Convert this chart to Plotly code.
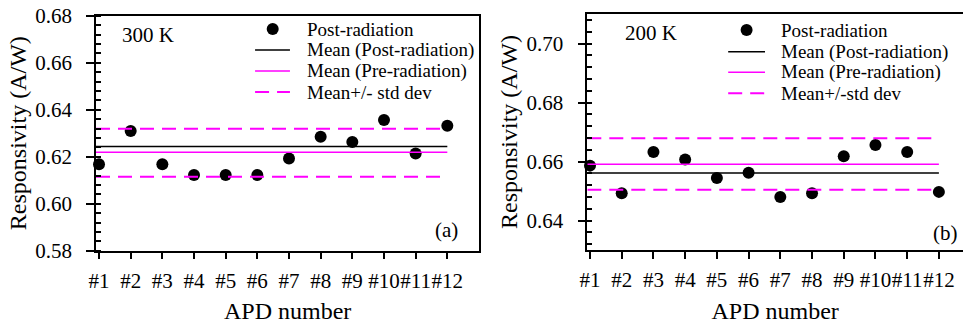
import plotly.graph_objects as go

# ---------------- data ----------------
apd_labels = ["#1", "#2", "#3", "#4", "#5", "#6", "#7", "#8", "#9", "#10", "#11", "#12"]
apd_index = list(range(1, 13))

post_300 = [0.6168, 0.6309, 0.6168, 0.6122, 0.6122, 0.6122, 0.6192, 0.6285, 0.6263, 0.6356, 0.6214, 0.6332]
post_200 = [0.6586, 0.6492, 0.6632, 0.6607, 0.6544, 0.6562, 0.6480, 0.6492, 0.6618, 0.6656, 0.6632, 0.6497]

mean_post_300 = 0.6243
mean_pre_300 = 0.6219
std_hi_300 = 0.6319
std_lo_300 = 0.6115

mean_post_200 = 0.6561
mean_pre_200 = 0.6591
std_hi_200 = 0.6679
std_lo_200 = 0.6504

legend_names_a = ["Post-radiation", "Mean (Post-radiation)", "Mean (Pre-radiation)", "Mean+/- std dev"]
legend_names_b = ["Post-radiation", "Mean (Post-radiation)", "Mean (Pre-radiation)", "Mean+/-std dev"]

# ---------------- style ----------------
W, H = 963, 324
FONT = "Liberation Serif"
MAGENTA = "#FF00FF"
DASH = "14px,8px"

xr_a = [0.905, 13.01]
xr_b = [0.915, 12.76]
yr_a = [0.58, 0.68]
yr_b = [0.63, 0.71]

fig = go.Figure()


def add_panel(xa, ya, xr, post, m_post, m_pre, s_hi, s_lo):
    x_line = [xr[0], apd_index[-1]]
    fig.add_trace(go.Scatter(x=apd_index, y=post, mode="markers",
                             marker=dict(color="black", size=12),
                             xaxis=xa, yaxis=ya, showlegend=False, cliponaxis=False))
    fig.add_trace(go.Scatter(x=x_line, y=[m_post, m_post], mode="lines",
                             line=dict(color="black", width=1.5),
                             xaxis=xa, yaxis=ya, showlegend=False))
    fig.add_trace(go.Scatter(x=x_line, y=[m_pre, m_pre], mode="lines",
                             line=dict(color=MAGENTA, width=1.5),
                             xaxis=xa, yaxis=ya, showlegend=False))
    for v in (s_hi, s_lo):
        fig.add_trace(go.Scatter(x=x_line, y=[v, v], mode="lines",
                                 line=dict(color=MAGENTA, width=2, dash=DASH),
                                 xaxis=xa, yaxis=ya, showlegend=False))


add_panel("x", "y", xr_a, post_300, mean_post_300, mean_pre_300, std_hi_300, std_lo_300)
add_panel("x2", "y2", xr_b, post_200, mean_post_200, mean_pre_200, std_hi_200, std_lo_200)


def manual_legend(xref, yref, names, marker_x, line_x0, line_x1, text_x, rows):
    fig.add_shape(type="circle", xref=xref, yref=yref, xsizemode="pixel", ysizemode="pixel",
                  xanchor=marker_x, yanchor=rows[0], x0=-6, x1=6, y0=-6, y1=6,
                  fillcolor="black", line=dict(color="black", width=0))
    styles = [dict(color="black", width=1.5), dict(color=MAGENTA, width=1.5),
              dict(color=MAGENTA, width=2, dash=DASH)]
    for r, st in zip(rows[1:], styles):
        fig.add_shape(type="line", xref=xref, yref=yref, x0=line_x0, x1=line_x1, y0=r, y1=r, line=st)
    for r, nm in zip(rows, names):
        fig.add_annotation(xref=xref, yref=yref, x=text_x, y=r, text=nm, showarrow=False,
                           xanchor="left", yanchor="middle", font=dict(family=FONT, size=19, color="black"))


manual_legend("x domain", "y domain", legend_names_a, 0.461, 0.415, 0.506, 0.545,
              [0.943, 0.854, 0.765, 0.675])
manual_legend("x2 domain", "y2 domain", legend_names_b, 0.424, 0.375, 0.473, 0.510,
              [0.932, 0.840, 0.753, 0.664])

for xref, yref, t, x, y in [("x domain", "y domain", "300 K", 0.0626, 0.918),
                            ("x2 domain", "y2 domain", "200 K", 0.094, 0.918)]:
    fig.add_annotation(xref=xref, yref=yref, x=x, y=y, text=t, showarrow=False,
                       xanchor="left", yanchor="middle", font=dict(family=FONT, size=21, color="black"))
for xref, yref, t, x, y in [("x domain", "y domain", "(a)", 0.950, 0.088),
                            ("x2 domain", "y2 domain", "(b)", 0.992, 0.071)]:
    fig.add_annotation(xref=xref, yref=yref, x=x, y=y, text=t, showarrow=False,
                       xanchor="right", yanchor="middle", font=dict(family=FONT, size=21, color="black"))

axis_common = dict(showline=True, linecolor="black", linewidth=1.5, showgrid=False, zeroline=False,
                   automargin=False,
                   tickfont=dict(family=FONT, size=21, color="black"), tickcolor="black", tickwidth=1.5)

xcommon = dict(axis_common, tickmode="array", tickvals=apd_index, ticktext=apd_labels,
               ticks="outside", ticklen=7, mirror=True, tickangle=0, ticklabelstandoff=3,
               title=dict(text="APD number", font=dict(family=FONT, size=24, color="black"), standoff=12))
ycommon = dict(axis_common, dtick=0.02, tickformat=".2f", ticks="outside", ticklen=8, ticklabelstandoff=10,
               minor=dict(dtick=0.004, ticks="inside", ticklen=5, tickcolor="black", tickwidth=1.5),
               title=dict(text="Responsivity (A/W)", font=dict(family=FONT, size=24, color="black"), standoff=2))

fig.update_layout(
    width=W, height=H,
    margin=dict(l=0, r=0, t=0, b=0, autoexpand=False),
    paper_bgcolor="white", plot_bgcolor="white",
    showlegend=False,
    font=dict(family=FONT, color="black"),
    xaxis=dict(xcommon, domain=[96 / W, 479.3 / W], range=xr_a, anchor="y"),
    yaxis=dict(ycommon, domain=[(H - 250.7) / H, (H - 15.7) / H], range=yr_a, anchor="x", mirror=True),
    xaxis2=dict(xcommon, domain=[587.3 / W, 1.0], range=xr_b, anchor="y2"),
    yaxis2=dict(ycommon, domain=[(H - 250) / H, (H - 14) / H], range=yr_b, anchor="x2", mirror=False),
)

fig.write_html("out.html", config={"displayModeBar": False},
               post_script="document.body.style.margin='0';")
